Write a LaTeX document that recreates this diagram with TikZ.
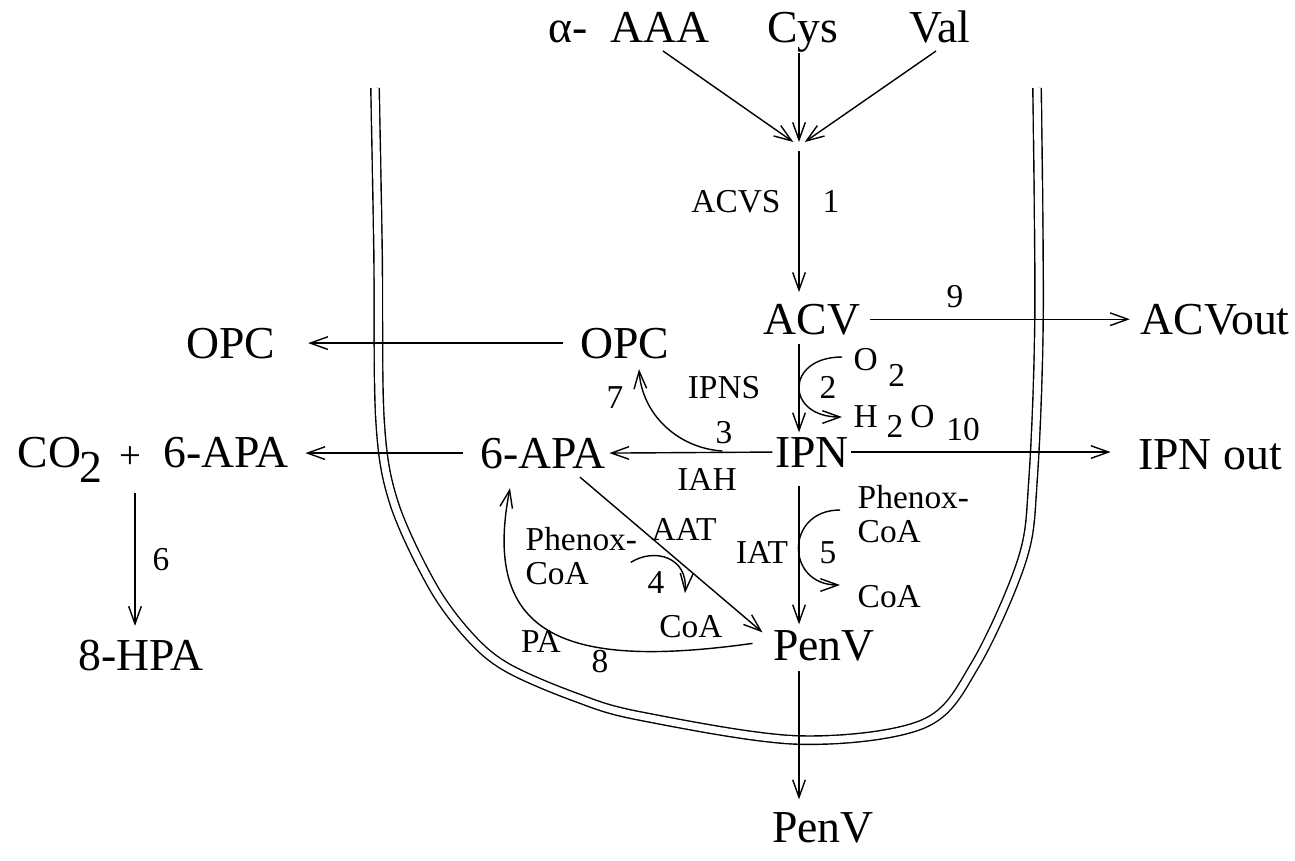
\documentclass[tikz,border=0pt]{standalone}
\usepackage{fontspec}
\setmainfont{Liberation Serif}
\usetikzlibrary{arrows.meta}

\begin{document}
\begin{tikzpicture}[
	x=0.01cm, y=-0.01cm,
	% Styles for the metabolites and the small labels
	metab/.style={font=\fontsize{13}{15}\selectfont, inner sep=0pt, anchor=base},
	enzyme/.style={font=\fontsize{9.5}{9.6}\selectfont, inner sep=0pt, anchor=base},
	% Styles for the lines
	flux/.style={-{Straight Barb[length=5pt,width=3.6pt]}},
	membrane/.style={double, double distance=0.07cm}
	]
	\useasboundingbox (0,0) rectangle (1295,860);
	
	% ==========================================
	% CELL MEMBRANE
	% ==========================================
	\draw[membrane] plot[smooth, tension=0.55] coordinates {(375,88) (378,250) (380,420) (394,503) (433,587) (471,638) (508,668) (575,697) (640,716) (798,740) (923,724) (975,665) (1022,560) (1033,480) (1039,318) (1037,88)};
	
	% ==========================================
	% METABOLITES
	% ==========================================
	\node[metab, anchor=base west] (aaa) at (548,42) {α-\hspace{6.5pt}AAA};
	\node[metab] (cys) at (803,42) {Cys};
	\node[metab] (val) at (940,42) {Val};
	\coordinate (join) at (799,146);
	
	\node[metab] (acv) at (812,334) {ACV};
	\node[metab] (acvout) at (1215,334) {ACVout};
	\node[metab] (opc) at (625,358) {OPC};
	\node[metab] (opcout) at (231,358) {OPC};
	\node[metab] (ipn) at (812,467) {IPN};
	\node[metab] (ipnout) at (1210,469) {IPN out};
	\node[metab] (apa) at (543,468) {6-APA};
	\node[metab, anchor=base west] (co2) at (17,467) {CO\kern-0.6pt\raisebox{-4.3pt}{2}};
	\node[enzyme, anchor=center, font=\fontsize{11}{12}\selectfont] (plus) at (130,458) {+};
	\node[metab] (apaout) at (226,467) {6-APA};
	\node[metab] (hpa) at (141,670) {8-HPA};
	\node[metab] (penv) at (824,660) {PenV};
	\node[metab] (penvout) at (823,842) {PenV};
	
	% ==========================================
	% ENZYMES, STEPS AND COFACTORS
	% ==========================================
	\node[enzyme] (acvs) at (736,212) {ACVS};
	\node[enzyme] (e1) at (831,212) {1};
	\node[enzyme] (e9) at (955,307) {9};
	\node[enzyme] (ipns) at (724,398) {IPNS};
	\node[enzyme] (e7) at (615,408) {7};
	\node[enzyme] (e3) at (724,443) {3};
	\node[enzyme] (e2) at (828,398) {2};
	\node[enzyme, anchor=base west] (o2) at (853,370) {O\hspace{3pt}\raisebox{-4.8pt}{2}};
	\node[enzyme, anchor=base west] (h2o) at (853,427) {H\hspace{2.5pt}\raisebox{-3.1pt}{2}\hspace{2pt}O};
	\node[enzyme] (e10) at (963,440) {10};
	\node[enzyme] (iah) at (707,490) {IAH};
	\node[enzyme] (aat) at (684,540) {AAT};
	\node[enzyme, anchor=north west, align=left] (phenA) at (525,527) {Phenox-\\CoA};
	\node[enzyme] (e4) at (656,593) {4};
	\node[enzyme] (coaA) at (691,637) {CoA};
	\node[enzyme] (iat) at (762,563) {IAT};
	\node[enzyme] (e5) at (828,563) {5};
	\node[enzyme, anchor=north west, align=left] (phenB) at (857,485) {Phenox-\\CoA};
	\node[enzyme, anchor=base west] (coaB) at (857,607) {CoA};
	\node[enzyme] (pa) at (541,652) {PA};
	\node[enzyme] (e8) at (600,672) {8};
	\node[enzyme] (e6) at (161,570) {6};
	
	% ==========================================
	% REACTIONS
	% ==========================================
	% Precursors to ACV
	\draw[flux, shorten >=0.07cm] ([shift={(115,9)}]aaa.base west) -- (join);
	\draw[flux, shorten >=0.04cm] (cys.south -| join) -- (join);
	\draw[flux, shorten >=0.07cm] ([shift={(-4,9)}]val.base) -- (join);
	\draw[flux, shorten <=0.05cm, shorten >=0.11cm] (join) -- (acv.north -| join);
	
	% Main trunk
	\draw[flux, shorten <=0.09cm, shorten >=0.04cm] (acv.south -| join) -- (ipn.north -| join);
	\draw[flux, shorten <=0.18cm, shorten >=0.05cm] (ipn.south -| join) -- (penv.north -| join);
	\draw[flux, shorten <=0.10cm, shorten >=0.12cm] (penv.south -| join) -- (penvout.north -| join);
	\draw[flux, shorten <=0.02cm, shorten >=0.03cm] (ipn.west) -- (apa.east);
	\draw[flux] ([shift={(37,8)}]apa.south) -- ([shift={(-10,3)}]penv.north west);
	
	% Export out of the cell
	\draw[flux, shorten <=0.09cm, shorten >=0.10cm] (acv.east) -- (acvout.west);
	\draw[flux, shorten <=0.01cm, shorten >=0.27cm] (ipn.east) -- (ipnout.west |- ipn.east);
	\draw[flux, shorten <=0.17cm, shorten >=0.32cm] (opc.west) -- (opcout.east);
	\draw[flux, shorten <=0.17cm, shorten >=0.16cm] (apa.west) -- (apaout.east |- apa.west);
	\draw[flux] ([shift={(5,35)}]plus.center) -- ([shift={(-6,-13)}]hpa.north);
	
	% Side reactions
	\draw[flux] ([shift={(-52,-1)}]ipn.west) .. controls +(-45,-3) and +(3,45) .. ([shift={(14,10)}]opc.south);
	\draw[flux] ([shift={(-20,-2)}]penv.west) .. controls +(-180,25) and +(-30,153) .. ([shift={(-33,19)}]apa.south);
	
	% Cofactors
	\draw[flux] ([shift={(-11,-13)}]o2.base west) .. controls +(-57,0) and +(-57,0) .. ([shift={(-11,-10)}]h2o.base west);
	\draw[flux] ([shift={(-17,25)}]phenB.north west) .. controls +(-55,0) and +(-55,0) .. ([shift={(-17,-22)}]coaB.base west);
	\draw[flux] ([shift={(-7,6)}]phenA.east) .. controls +(24,-15) and +(3,-36) .. ([shift={(-6,-21)}]coaA.north);
	
\end{tikzpicture}
\end{document}
